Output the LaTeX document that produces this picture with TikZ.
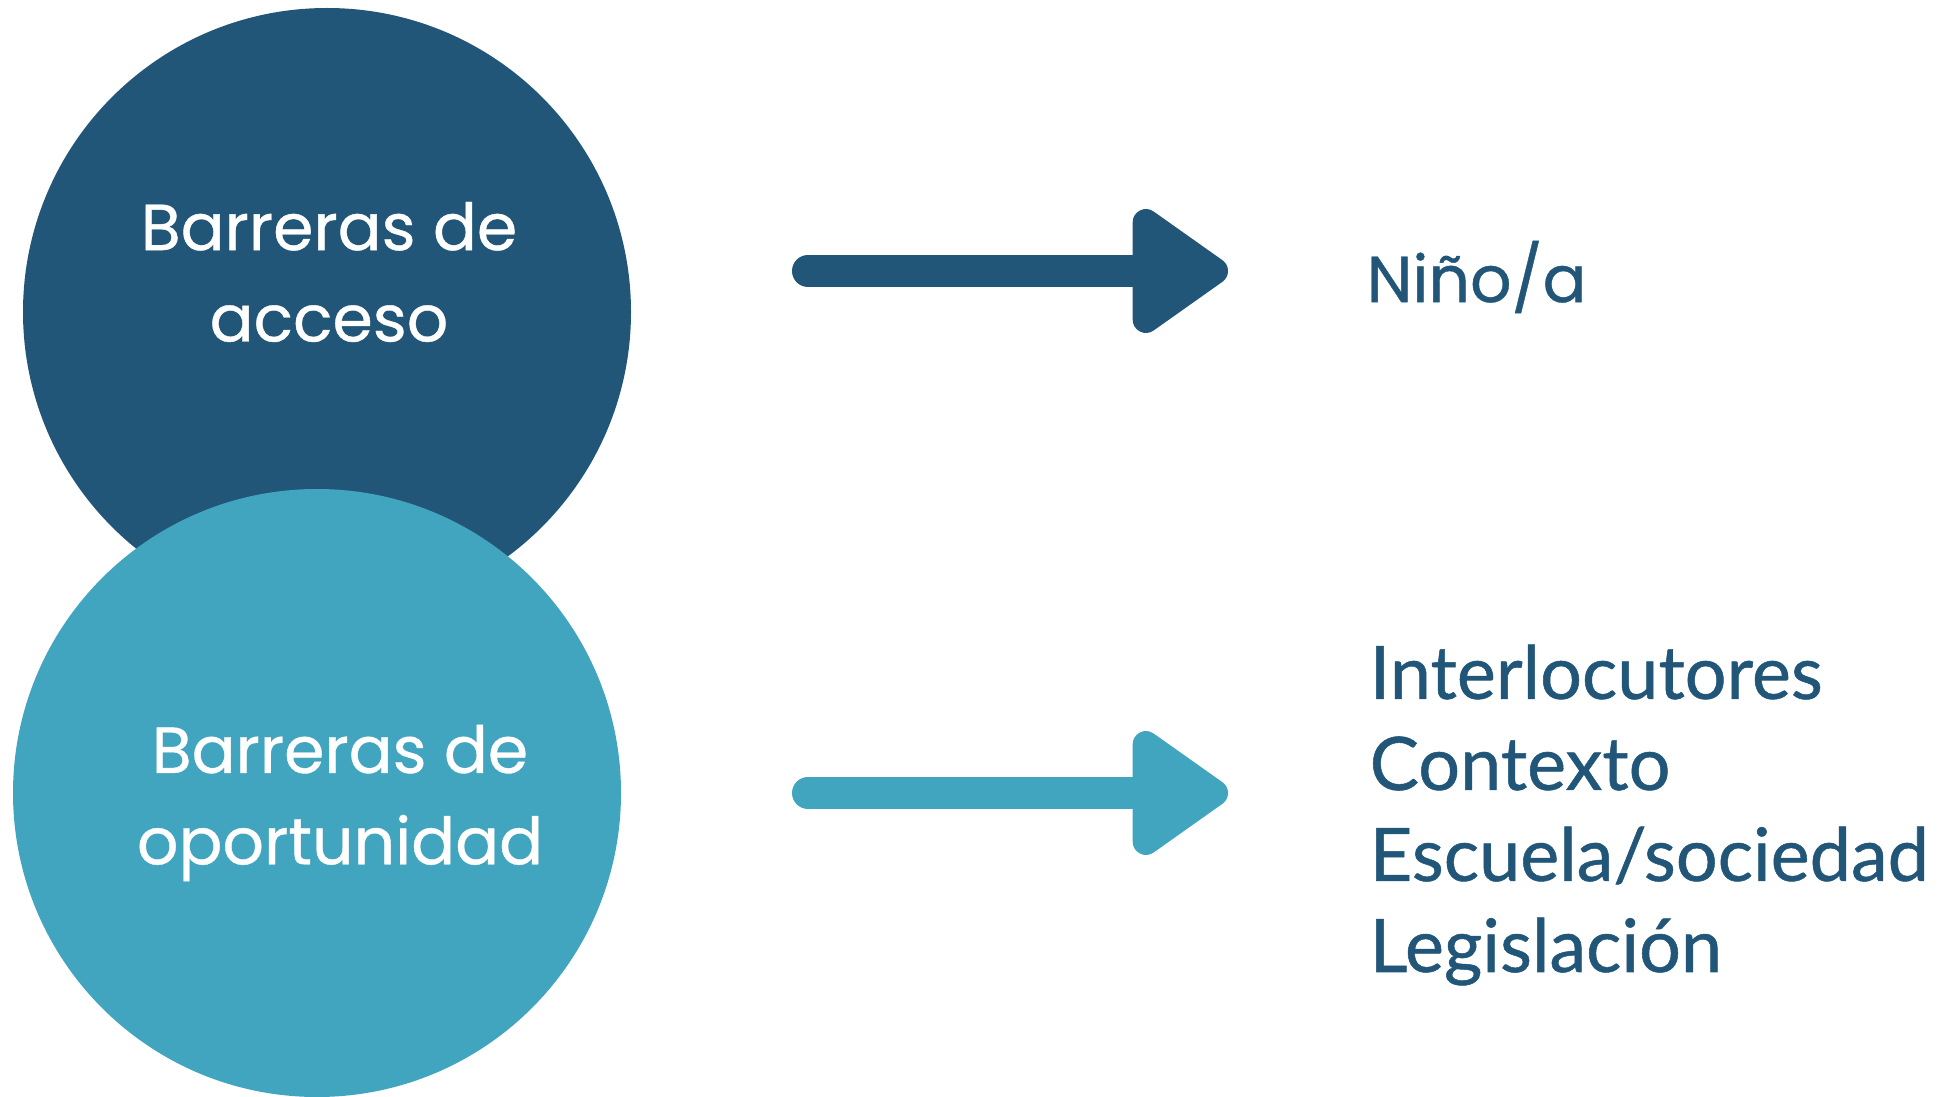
\documentclass[tikz,border=0pt]{standalone}
\usepackage{fontspec}
\setmainfont{Poppins}[FakeBold=0.6]
\newfontfamily\listfont{Lato}[FakeBold=0.7]
\usetikzlibrary{arrows.meta, positioning}

\definecolor{accesoblue}{HTML}{215679}
\definecolor{oporteal}{HTML}{42A5BF}

\begin{document}
\begin{tikzpicture}[>=stealth,
    barrier/.style={circle, minimum size=6.08cm, inner sep=0pt},
    circtext/.style={text=white, align=center, font=\fontsize{18.5}{26}\selectfont},
    outtext/.style={text=accesoblue, anchor=west, inner sep=0pt, font=\fontsize{18.5}{26}\selectfont},
    fatarrow/.style={line width=0.32cm, line cap=round,
      -{Triangle[length=1.06cm, width=1.41cm, round]}}]
          \useasboundingbox (0,0) rectangle (19.57,10.96);
          \node[barrier, fill=accesoblue] (acc) at (3.27,7.84) {};
          \node[barrier, fill=oporteal] (opo) at (3.17,3.03) {};
          \node[circtext] (acctxt) at (3.29,8.24) {Barreras de\\acceso};
          \node[circtext] (opotxt) at (3.40,2.93) {Barreras de\\oportunidad};

          % arrows towards the lists
          \coordinate (a1) at (8.08,8.25);
          \coordinate (b1) at (12.28,8.25);
          \coordinate (a2) at (8.08,3.03);
          \coordinate (b2) at (12.28,3.03);
          \draw[fatarrow, accesoblue] (a1) -- (b1);
          \draw[fatarrow, oporteal] (a2) -- (b2);

          \node[outtext] (nino) at (13.66,8.19) {Niño/a};
          \node[outtext, font=\listfont\fontsize{21}{25.9}\selectfont, align=left]
            (factores) at (13.69,2.81) {Interlocutores\\Contexto\\Escuela/sociedad\\Legislación};
\end{tikzpicture}
\end{document}
